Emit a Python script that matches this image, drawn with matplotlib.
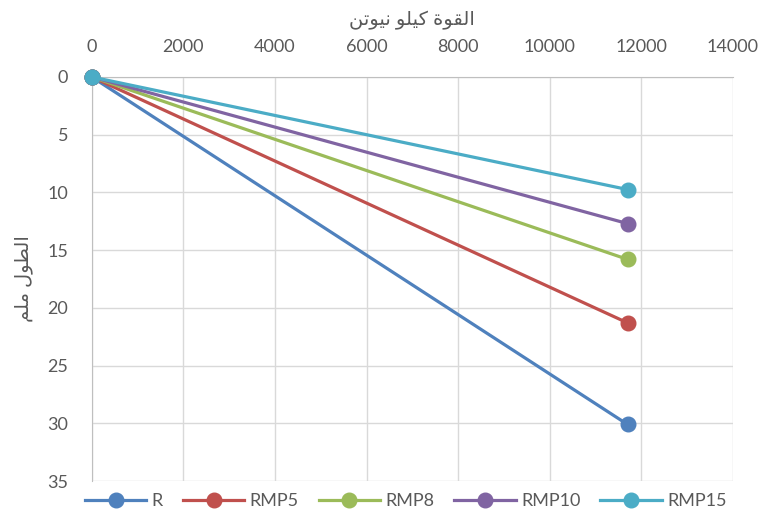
import matplotlib.pyplot as plt
import numpy as np

plt.rcParams['font.family'] = ['Lato', 'DejaVu Sans']

series_names = ['R', 'RMP5', 'RMP8', 'RMP10', 'RMP15']
force = [0, 11700]
elong_R = [0, 30.1]
elong_RMP5 = [0, 21.3]
elong_RMP8 = [0, 15.8]
elong_RMP10 = [0, 12.7]
elong_RMP15 = [0, 9.75]
colors = ['#4F81BD', '#C0504D', '#9BBB59', '#8064A2', '#4BACC6']

# Arabic titles pre-shaped (presentation forms), visual order
x_title = '\uFE8D\uFEDF\uFED8\uFEEE\uFE93 \uFEDB\uFEF4\uFEE0\uFEEE \uFEE7\uFEF4\uFEEE\uFE97\uFEE6'[::-1]
y_title = '\uFE8D\uFEDF\uFEC4\uFEEE\uFEDD \uFEE3\uFEE0\uFEE2'[::-1]

fig = plt.figure(figsize=(7.65, 5.18), dpi=100)
ax = fig.add_axes([0.120, 0.0714, 0.838, 0.780])

all_vals = [elong_R, elong_RMP5, elong_RMP8, elong_RMP10, elong_RMP15]
for name, vals, c in zip(series_names, all_vals, colors):
    ax.plot(force, vals, color=c, lw=2.3, marker='o', markersize=10.5,
            label=name, clip_on=False, zorder=3)

ax.set_xlim(0, 14000)
ax.set_ylim(35, 0)
ax.set_xticks(np.arange(0, 14001, 2000))
ax.set_yticks(np.arange(0, 36, 5))
ax.xaxis.tick_top()
ax.xaxis.set_label_position('top')
ax.grid(True, color='#D9D9D9', lw=1)
ax.set_axisbelow(True)
ax.tick_params(length=0, labelsize=13, colors='#595959')
ax.tick_params(axis='y', pad=17)
ax.tick_params(axis='x', pad=16)

for s in ['right', 'bottom']:
    ax.spines[s].set_visible(False)
for s in ['left', 'top']:
    ax.spines[s].set_color('#BFBFBF')

ax.set_xlabel(x_title, fontsize=14, color='#595959', labelpad=10)
ax.set_ylabel(y_title, fontsize=14, color='#595959', labelpad=10)

leg = ax.legend(loc='upper center', bbox_to_anchor=(0.49, -0.012), ncol=5,
                frameon=False, fontsize=13, handlelength=3.4,
                columnspacing=1.1, handletextpad=0.3, borderaxespad=0)
for t in leg.get_texts():
    t.set_color('#595959')

fig.savefig('out.png', dpi=100)
